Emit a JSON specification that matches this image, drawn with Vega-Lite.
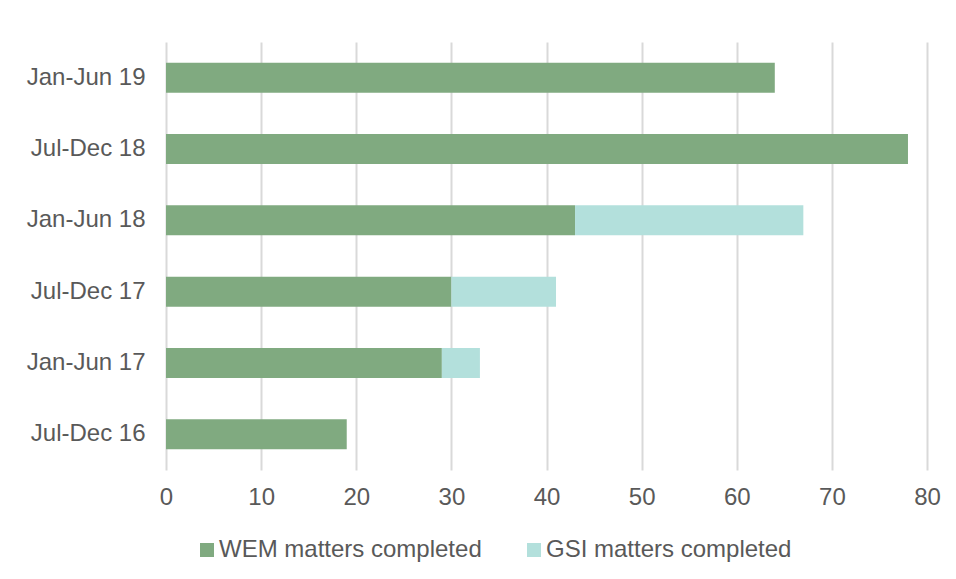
{
  "$schema": "https://vega.github.io/schema/vega-lite/v6.json",
  "width": 761,
  "height": 428,
  "autosize": {"type": "none"},
  "padding": {"left": 166, "top": 42, "right": 29, "bottom": 109},
  "background": "white",
  "data": {
    "values": [
      {"period": "Jan-Jun 19", "series": "WEM matters completed", "seq": 1, "matters": 64},
      {"period": "Jul-Dec 18", "series": "WEM matters completed", "seq": 1, "matters": 78},
      {"period": "Jan-Jun 18", "series": "WEM matters completed", "seq": 1, "matters": 43},
      {"period": "Jan-Jun 18", "series": "GSI matters completed", "seq": 2, "matters": 24},
      {"period": "Jul-Dec 17", "series": "WEM matters completed", "seq": 1, "matters": 30},
      {"period": "Jul-Dec 17", "series": "GSI matters completed", "seq": 2, "matters": 11},
      {"period": "Jan-Jun 17", "series": "WEM matters completed", "seq": 1, "matters": 29},
      {"period": "Jan-Jun 17", "series": "GSI matters completed", "seq": 2, "matters": 4},
      {"period": "Jul-Dec 16", "series": "WEM matters completed", "seq": 1, "matters": 19}
    ]
  },
  "mark": {"type": "bar"},
  "encoding": {
    "y": {
      "field": "period",
      "type": "nominal",
      "sort": ["Jan-Jun 19", "Jul-Dec 18", "Jan-Jun 18", "Jul-Dec 17", "Jan-Jun 17", "Jul-Dec 16"],
      "scale": {"paddingInner": 0.58, "paddingOuter": 0.29},
      "axis": {
        "title": null,
        "domain": false,
        "ticks": false,
        "grid": false,
        "labelFont": "Liberation Sans",
        "labelFontSize": 24,
        "labelColor": "#595959",
        "labelPadding": 21,
        "labelLimit": 0
      }
    },
    "x": {
      "field": "matters",
      "type": "quantitative",
      "stack": "zero",
      "scale": {"domain": [0, 80], "nice": false},
      "axis": {
        "title": null,
        "values": [0, 10, 20, 30, 40, 50, 60, 70, 80],
        "domain": false,
        "ticks": false,
        "grid": true,
        "gridColor": "#d9d9d9",
        "gridWidth": 2,
        "labelFlush": false,
        "labelFont": "Liberation Sans",
        "labelFontSize": 24,
        "labelColor": "#595959",
        "labelPadding": 15
      }
    },
    "color": {
      "field": "series",
      "type": "nominal",
      "scale": {
        "domain": ["WEM matters completed", "GSI matters completed"],
        "range": ["#80aa80", "#b3e0dc"]
      },
      "legend": {
        "title": null,
        "orient": "none",
        "direction": "horizontal",
        "legendX": 29,
        "legendY": 496,
        "symbolType": "square",
        "symbolSize": 196,
        "symbolStrokeWidth": 0,
        "labelFont": "Liberation Sans",
        "labelFontSize": 24,
        "labelColor": "#595959",
        "labelOffset": 0,
        "labelLimit": 0,
        "columnPadding": 40
      }
    },
    "order": {"field": "seq", "type": "quantitative"}
  },
  "config": {"view": {"stroke": null}}
}
